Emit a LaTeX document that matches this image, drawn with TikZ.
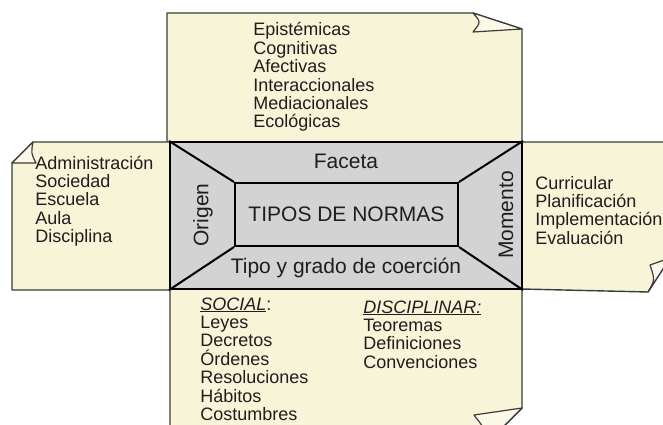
\documentclass[tikz,border=0pt]{standalone}
\usepackage{fontspec}
\setmainfont{Liberation Sans}
\usepackage{xcolor}
\definecolor{paper}{RGB}{248,244,216}
\definecolor{boxgray}{RGB}{211,211,211}
\definecolor{edge}{RGB}{60,60,60}
\definecolor{ink}{RGB}{30,30,30}

\begin{document}
\begin{tikzpicture}[x=1pt, y=-1pt, thick,
    flap/.style = {draw=edge, line width=1.4pt, fill=paper, line join=round},
    curl/.style = {draw=edge, line width=1.2pt, fill=paper!60!white, line join=round},
    box/.style = {draw=black, line width=2.2pt, fill=boxgray, inner sep=0pt},
    big/.style = {text=ink, font=\fontsize{21}{24}\selectfont},
    lst/.style = {text=ink, align=left, anchor=base west, inner sep=0pt, font=\fontsize{18}{18.4}\selectfont}]
    \useasboundingbox (0,0) rectangle (663,425);
    \fill[white] (0,0) rectangle (663,425);

    \draw[flap] (167,143) -- (167,13) -- (473,13) -- (522,29) -- (522,143);
    \draw[curl] (473,13) .. controls (481,22) .. (473,32) -- (522,29) -- cycle;
    \draw[flap] (170,142) -- (33,142) -- (12,163) -- (12,290) -- (170,290);
    \draw[curl] (33,142) .. controls (31,153) .. (36,163) -- (12,163) -- cycle;
    \draw[flap] (522,142) -- (670,142) -- (670,258) -- (648,292) -- (522,289);
    \draw[curl] (648,292) .. controls (655,280) .. (650,265) -- (670,258) -- cycle;
    \draw[flap] (170,289) -- (170,440) -- (490,440) -- (522,408) -- (522,289);
    \draw[curl] (490,440) .. controls (484,428) .. (474,415) -- (522,408) -- cycle;

    \node[box, minimum width=352pt, minimum height=147pt] (outer) at (346,215.5) {};
    \node[box, line width=2pt, minimum width=223pt, minimum height=63pt] (inner) at (346.5,214.5) {};
    \draw[line width=2pt] (outer.north west) -- (inner.north west);
    \draw[line width=2pt] (outer.north east) -- (inner.north east);
    \draw[line width=2pt] (outer.south west) -- (inner.south west);
    \draw[line width=2pt] (outer.south east) -- (inner.south east);

    \node[big] (normas) at (inner.center) {TIPOS DE NORMAS};
    \node[big] (faceta) at (346,161) {Faceta};
    \node[big] (coercion) at (346,268) {Tipo y grado de coerción};
    \node[big, rotate=90] (origen) at (203,215) {Origen};
    \node[big, rotate=90] (momento) at (506,215) {Momento};

    \node[lst] (facetas) at (253,128) {Epistémicas\\Cognitivas\\Afectivas\\Interaccionales\\Mediacionales\\Ecológicas};
    \node[lst] (origenes) at (35,242.6) {Administración\\Sociedad\\Escuela\\Aula\\Disciplina};
    \node[lst] (momentos) at (535,244.2) {Curricular\\Planificación\\Implementación\\Evaluación};
    \node[lst] (social) at (200,420.4) {\underline{\textit{SOCIAL}}:\\Leyes\\Decretos\\Órdenes\\Resoluciones\\Hábitos\\Costumbres};
    \node[lst] (disciplinar) at (363,368.2) {\underline{\textit{DISCIPLINAR:}}\\Teoremas\\Definiciones\\Convenciones};
\end{tikzpicture}
\end{document}
